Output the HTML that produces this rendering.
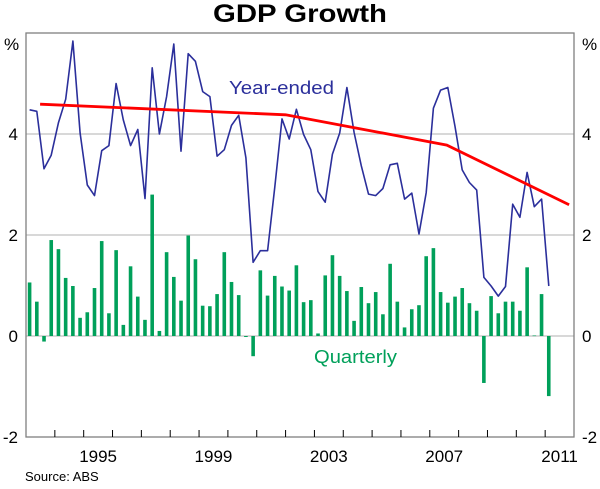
<!DOCTYPE html>
<html><head><meta charset="utf-8">
<style>
html,body{margin:0;padding:0;background:#fff;}
svg text{font-family:"Liberation Sans",Arial,sans-serif;}
</style></head>
<body>
<svg id="chart" width="600" height="484" viewBox="0 0 600 484" xmlns="http://www.w3.org/2000/svg">
<text x="300" y="22" text-anchor="middle" font-size="25" font-weight="bold" fill="#000" textLength="174" lengthAdjust="spacingAndGlyphs">GDP Growth</text>
<g id="grid"></g>
<g id="bars"></g>
<g id="lines"></g>
<rect x="26" y="33" width="548" height="404" fill="none" stroke="#808080" stroke-width="1.3"/>
<g id="axes"></g>
<text x="229" y="94" font-size="18" fill="#2b2f9b" textLength="105" lengthAdjust="spacingAndGlyphs">Year-ended</text>
<text x="314" y="363" font-size="18" fill="#00a05a" textLength="83" lengthAdjust="spacingAndGlyphs">Quarterly</text>
<text x="25" y="481" font-size="13" fill="#000">Source: ABS</text>
</svg>
<script>
const quarterly = [1.06,0.68,-0.11,1.90,1.72,1.15,0.99,0.36,0.47,0.95,1.88,0.45,1.70,0.22,1.38,0.78,0.32,2.80,0.10,1.66,1.17,0.70,1.99,1.52,0.60,0.59,0.83,1.66,1.07,0.81,-0.02,-0.40,1.30,0.80,1.19,0.98,0.90,1.40,0.67,0.71,0.05,1.20,1.60,1.19,0.89,0.30,0.97,0.65,0.87,0.43,1.43,0.68,0.17,0.53,0.61,1.58,1.74,0.87,0.66,0.78,0.95,0.65,0.50,-0.93,0.79,0.45,0.68,0.68,0.50,1.36,0.01,0.83,-1.19];
const yearEnded = [4.48,4.45,3.31,3.58,4.22,4.69,5.84,4.02,2.99,2.78,3.67,3.77,5.00,4.28,3.77,4.09,2.72,5.31,4.00,4.74,5.78,3.66,5.59,5.44,4.84,4.74,3.56,3.69,4.17,4.37,3.53,1.46,1.69,1.69,2.95,4.30,3.90,4.49,3.99,3.69,2.86,2.65,3.60,4.02,4.92,4.03,3.37,2.81,2.78,2.92,3.39,3.42,2.71,2.83,2.02,2.84,4.51,4.87,4.92,4.15,3.29,3.04,2.89,1.16,0.99,0.79,0.98,2.61,2.35,3.24,2.56,2.71,0.99];
const trendDates = [1993.49,2002.0,2007.59,2011.83];
const trendValues = [4.59,4.38,3.78,2.60];
const yTicks = [-2,0,2,4];
const xLabels = [1995,1999,2003,2007,2011];
const startYear = 1993, endYear = 2012;

const NS="http://www.w3.org/2000/svg";
const L=26,R=574,T=33,B=437,yMin=-2,yMax=6;
const xs=d=>L+(d-startYear)/(endYear-startYear)*(R-L);
const ys=v=>B-(v-yMin)/(yMax-yMin)*(B-T);
const qDate=i=>startYear+i/4+0.125;
function mk(tag,attrs,parent){const e=document.createElementNS(NS,tag);for(const k in attrs)e.setAttribute(k,attrs[k]);parent.appendChild(e);return e;}
const grid=document.getElementById('grid'),bars=document.getElementById('bars'),lines=document.getElementById('lines'),axes=document.getElementById('axes');
yTicks.forEach(v=>{
  if(v===yMin)return;
  const g=mk('line',{x1:L,x2:R,y1:ys(v),y2:ys(v),stroke:'#c0c0c0','stroke-width':1.2},grid);
  
  
});
yTicks.forEach(v=>{
  const a=mk('text',{x:18,y:ys(v)+6,'text-anchor':'end','font-size':17,fill:'#000'},axes);a.textContent=v;
  
  
  const b=mk('text',{x:582,y:ys(v)+6,'text-anchor':'start','font-size':17,fill:'#000'},axes);b.textContent=v;
  
  
});
const p1=mk('text',{x:4,y:50,'font-size':17,fill:'#000'},axes);p1.textContent='%';


const p2=mk('text',{x:582,y:50,'font-size':17,fill:'#000'},axes);p2.textContent='%';


for(let yr=startYear+1;yr<endYear;yr++){
  const t=mk('line',{x1:xs(yr),x2:xs(yr),y1:B,y2:B-7,stroke:'#000','stroke-width':1},axes);
  
  
}
xLabels.forEach(yr=>{
  const t=mk('text',{x:xs(yr+0.5),y:462,'text-anchor':'middle','font-size':17,fill:'#000'},axes);t.textContent=yr;
  
  
});
const y0=ys(0);
quarterly.forEach((v,i)=>{
  const x=xs(qDate(i)),y=ys(v);
  const r=mk('rect',{x:x-1.8,y:Math.min(y,y0),width:3.6,height:Math.max(Math.abs(y-y0),0.6),fill:'#00a05a'},bars);
  
  
});
const pl=mk('polyline',{points:yearEnded.map((v,i)=>xs(qDate(i)).toFixed(1)+','+ys(v).toFixed(1)).join(' '),fill:'none',stroke:'#2b2f9b','stroke-width':1.6,'stroke-linejoin':'round'},lines);


const tl=mk('polyline',{points:trendDates.map((d,i)=>xs(d).toFixed(1)+','+ys(trendValues[i]).toFixed(1)).join(' '),fill:'none',stroke:'#ff0000','stroke-width':2.8},lines);


</script>
</body></html>
